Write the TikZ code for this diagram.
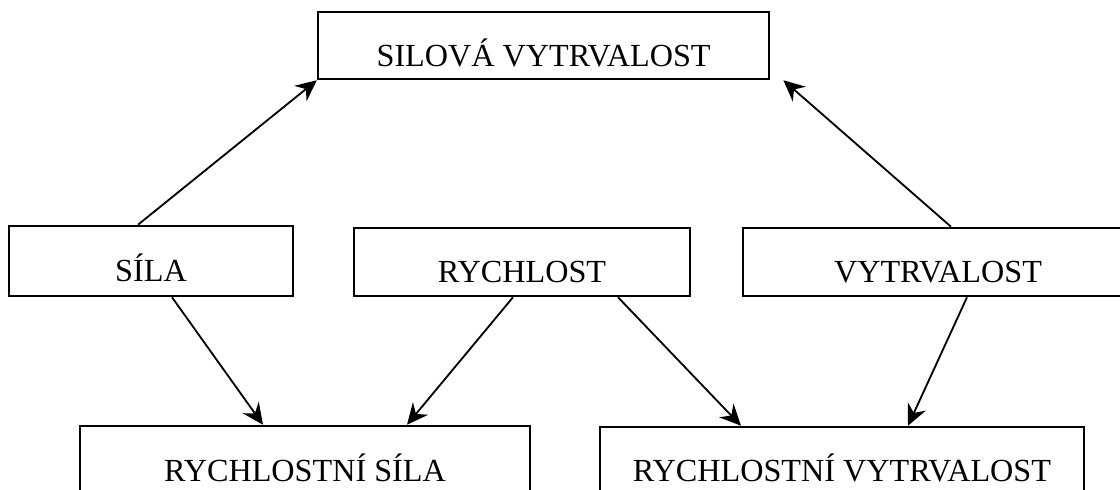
\documentclass[tikz,border=0pt]{standalone}
\usepackage{fontspec}
\setmainfont{Liberation Serif}
\usetikzlibrary{arrows.meta}

\begin{document}
\begin{tikzpicture}[
    box/.style={draw, line width=1.8pt, inner sep=0pt, anchor=base, font=\fontsize{22.9}{27}\selectfont},
    link/.style={line width=1.3pt, -{Stealth[length=15pt, width=14pt, inset=5pt]}}
  ]
  \useasboundingbox (0,0) rectangle (28,12.25);
  \clip (0,0) rectangle (28,12.25);

  % Top: combined ability
  \node[box, minimum width=11.275cm, text height=1.375cm, text depth=0.3cm] (silvyt) at (13.59,10.575) {SILOVÁ VYTRVALOST};

  % Middle row: basic abilities
  \node[box, minimum width=7.1cm, text height=1.4cm, text depth=0.35cm] (sila) at (3.775,5.2) {SÍLA};
  \node[box, minimum width=8.4cm, text height=1.375cm, text depth=0.325cm] (rychlost) at (13.05,5.175) {RYCHLOST};
  \node[box, minimum width=9.75cm, text height=1.375cm, text depth=0.325cm] (vytrvalost) at (23.45,5.175) {VYTRVALOST};

  % Bottom row: combined abilities (cut at the lower edge)
  \node[box, minimum width=11.25cm, text height=1.4cm, text depth=0.5cm] (rychsila) at (7.625,0.2) {RYCHLOSTNÍ SÍLA};
  \node[box, minimum width=12.1cm, text height=1.375cm, text depth=0.5cm] (rychvyt) at (21.05,0.2) {RYCHLOSTNÍ VYTRVALOST};

  % Arrows up
  \draw[link] ([xshift=-0.325cm]sila.north) -- (silvyt.south west);
  \draw[link] ([xshift=0.325cm]vytrvalost.north) -- ([xshift=0.325cm]silvyt.south east);

  % Arrows down
  \draw[link] ([xshift=0.525cm]sila.south) -- ([xshift=-1.05cm]rychsila.north);
  \draw[link] ([xshift=-0.225cm]rychlost.south) -- ([xshift=2.55cm]rychsila.north);
  \draw[link] ([xshift=2.4cm]rychlost.south) -- ([xshift=-2.525cm]rychvyt.north);
  \draw[link] ([xshift=0.725cm]vytrvalost.south) -- ([xshift=1.65cm]rychvyt.north);
\end{tikzpicture}
\end{document}
